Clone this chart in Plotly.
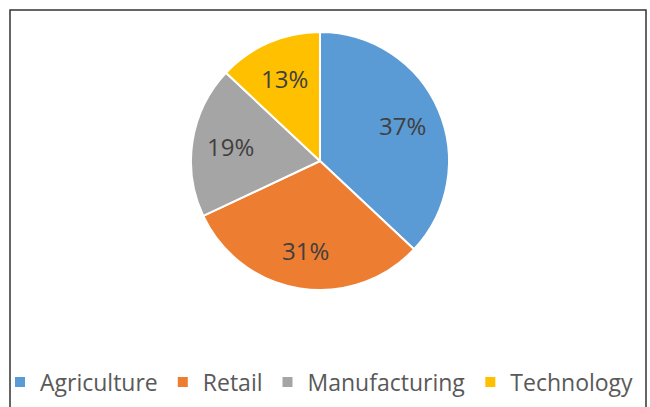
import math
import plotly.graph_objects as go

# Share of companies by sector
sectors = ["Agriculture", "Retail", "Manufacturing", "Technology"]
shares = [37, 31, 19, 13]
colors = ["#5B9BD5", "#ED7D31", "#A5A5A5", "#FFC000"]

W, H = 650, 407

# pie centre and radius in pixels
cx, cy, r = 320, 161, 129
label_radius = 0.70  # fraction of the radius where the percentages sit

fig = go.Figure(
    go.Pie(
        labels=sectors,
        values=shares,
        sort=False,
        direction="clockwise",
        rotation=0,
        marker=dict(colors=colors, line=dict(color="white", width=2)),
        textinfo="none",
        hoverinfo="label+percent",
        domain=dict(
            x=[(cx - r) / W, (cx + r) / W],
            y=[(H - cy - r) / H, (H - cy + r) / H],
        ),
    )
)

# percentage labels at each slice's mid-angle (clockwise from 12 o'clock)
total = sum(shares)
annotations = []
cum = 0.0
for v in shares:
    mid = (cum + v / 2) / total * 2 * math.pi
    cum += v
    px = cx + label_radius * r * math.sin(mid)
    py = cy - label_radius * r * math.cos(mid)
    annotations.append(
        dict(
            x=px / W,
            y=1 - py / H,
            xref="paper",
            yref="paper",
            text=f"{round(100 * v / total)}%",
            showarrow=False,
            xanchor="center",
            yanchor="middle",
            font=dict(family="Open Sans", size=24, color="#404040"),
        )
    )

fig.update_layout(
    width=W,
    height=H,
    margin=dict(l=0, r=0, t=0, b=0),
    paper_bgcolor="white",
    plot_bgcolor="white",
    showlegend=True,
    annotations=annotations,
    legend=dict(
        orientation="h",
        x=0.49,
        xanchor="center",
        y=25 / H,
        yanchor="middle",
        itemwidth=30,
        bgcolor="rgba(0,0,0,0)",
        font=dict(family="Open Sans", size=23, color="#595959"),
        itemclick=False,
        itemdoubleclick=False,
    ),
    shapes=[
        dict(
            type="rect",
            xref="paper",
            yref="paper",
            x0=10 / W,
            x1=646 / W,
            y0=-0.05,
            y1=1 - 10 / H,
            line=dict(color="#333333", width=1.5),
            fillcolor="rgba(0,0,0,0)",
            layer="below",
        )
    ],
)

fig.write_html("out.html")
